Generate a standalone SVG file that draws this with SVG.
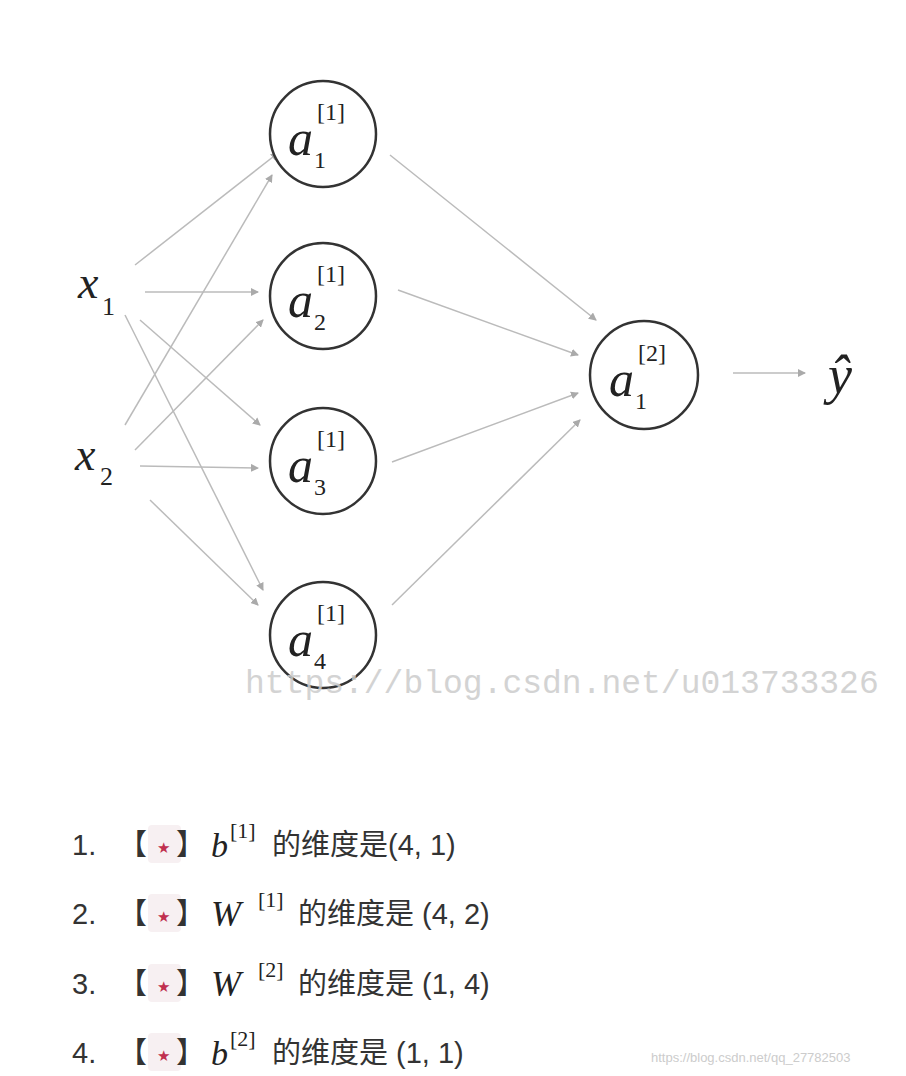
<svg xmlns="http://www.w3.org/2000/svg" width="906" height="1076" viewBox="0 0 906 1076">
<style>
.e{stroke:#bbb;stroke-width:1.5;fill:none;marker-end:url(#ah)}
.n{fill:#fff;stroke:#333;stroke-width:2.5}
.m{font-family:"Liberation Serif",serif;font-style:italic;fill:#222}
.s{font-family:"Liberation Serif",serif;fill:#222}
.t{font-family:"Liberation Sans","Noto Sans CJK SC",sans-serif;font-size:29px;fill:#333}
.st{fill:#f7f0f2}
</style>
<defs><marker id="ah" markerWidth="8" markerHeight="8" refX="7" refY="4" orient="auto" markerUnits="userSpaceOnUse"><path d="M0,0L8,4L0,8z" fill="#aaa"/></marker></defs>
<rect width="906" height="1076" fill="#fff"/>
<g id="connectors">
<line class="e" x1="135" y1="265" x2="278" y2="153"/>
<line class="e" x1="145" y1="292" x2="258" y2="292"/>
<line class="e" x1="140" y1="320" x2="260" y2="425"/>
<line class="e" x1="125" y1="315" x2="263" y2="590"/>
<line class="e" x1="125" y1="425" x2="272" y2="175"/>
<line class="e" x1="135" y1="450" x2="263" y2="320"/>
<line class="e" x1="140" y1="466" x2="258" y2="468"/>
<line class="e" x1="150" y1="500" x2="258" y2="605"/>
<line class="e" x1="390" y1="155" x2="596" y2="320"/>
<line class="e" x1="398" y1="290" x2="578" y2="355"/>
<line class="e" x1="392" y1="462" x2="578" y2="393"/>
<line class="e" x1="392" y1="605" x2="580" y2="420"/>
<line class="e" x1="733" y1="373" x2="805" y2="373"/>
</g>
<g id="x1"><text class="m" x="78" y="298" font-size="46">x</text><text class="s" x="102" y="315" font-size="26">1</text></g>
<g id="x2"><text class="m" x="75" y="470" font-size="46">x</text><text class="s" x="100" y="485" font-size="26">2</text></g>
<g id="a1"><circle class="n" cx="323" cy="134" r="53"/><text class="m" x="288" y="155" font-size="50">a</text><text class="s" x="314" y="168" font-size="24">1</text><text class="s" x="317" y="120" font-size="24">[1]</text></g>
<g id="a2"><circle class="n" cx="323" cy="296" r="53"/><text class="m" x="288" y="317" font-size="50">a</text><text class="s" x="314" y="330" font-size="24">2</text><text class="s" x="317" y="282" font-size="24">[1]</text></g>
<g id="a3"><circle class="n" cx="323" cy="461" r="53"/><text class="m" x="288" y="482" font-size="50">a</text><text class="s" x="314" y="495" font-size="24">3</text><text class="s" x="317" y="447" font-size="24">[1]</text></g>
<g id="a4"><circle class="n" cx="323" cy="635" r="53"/><text class="m" x="288" y="656" font-size="50">a</text><text class="s" x="314" y="669" font-size="24">4</text><text class="s" x="317" y="621" font-size="24">[1]</text></g>
<g id="out"><circle class="n" cx="644" cy="375" r="54"/><text class="m" x="609" y="396" font-size="50">a</text><text class="s" x="635" y="409" font-size="24">1</text><text class="s" x="638" y="361" font-size="24">[2]</text></g>
<g id="yhat"><text class="m" x="828" y="393" font-size="54">ŷ</text></g>
<text x="245" y="693" font-family="Liberation Mono,monospace" font-size="33" fill="#ccc" opacity="0.85">https://blog.csdn.net/u013733326</text>
<g class="t">
<text x="72" y="855">1.</text><text x="72" y="924">2.</text><text x="72" y="994">3.</text><text x="72" y="1063">4.</text>
</g>
<g id="items">
<rect class="st" x="148" y="825" width="33" height="38" rx="4"/>
<rect class="st" x="148" y="894" width="33" height="38" rx="4"/>
<rect class="st" x="148" y="964" width="33" height="38" rx="4"/>
<rect class="st" x="148" y="1033" width="33" height="38" rx="4"/>
<g class="t"><text x="118" y="855">【</text><text x="176" y="855">】</text>
<text x="118" y="924">【</text><text x="176" y="924">】</text>
<text x="118" y="994">【</text><text x="176" y="994">】</text>
<text x="118" y="1063">【</text><text x="176" y="1063">】</text></g>
<g font-family="DejaVu Sans,sans-serif" font-size="15" fill="#c03050">
<text x="157" y="853">★</text><text x="157" y="922">★</text><text x="157" y="992">★</text><text x="157" y="1061">★</text></g>
<text class="m" x="211" y="857" font-size="34">b</text><text class="s" x="230" y="838" font-size="22">[1]</text><text class="t" x="272" y="855">的维度是(4, 1)</text>
<text class="m" x="211" y="926" font-size="36">W</text><text class="s" x="258" y="907" font-size="22">[1]</text><text class="t" x="298" y="924">的维度是 (4, 2)</text>
<text class="m" x="211" y="996" font-size="36">W</text><text class="s" x="258" y="977" font-size="22">[2]</text><text class="t" x="298" y="994">的维度是 (1, 4)</text>
<text class="m" x="211" y="1065" font-size="34">b</text><text class="s" x="230" y="1046" font-size="22">[2]</text><text class="t" x="272" y="1063">的维度是 (1, 1)</text>
</g>
<text x="651" y="1062" font-family="Liberation Sans,sans-serif" font-size="13" fill="#ccc">https://blog.csdn.net/qq_27782503</text>
</svg>
